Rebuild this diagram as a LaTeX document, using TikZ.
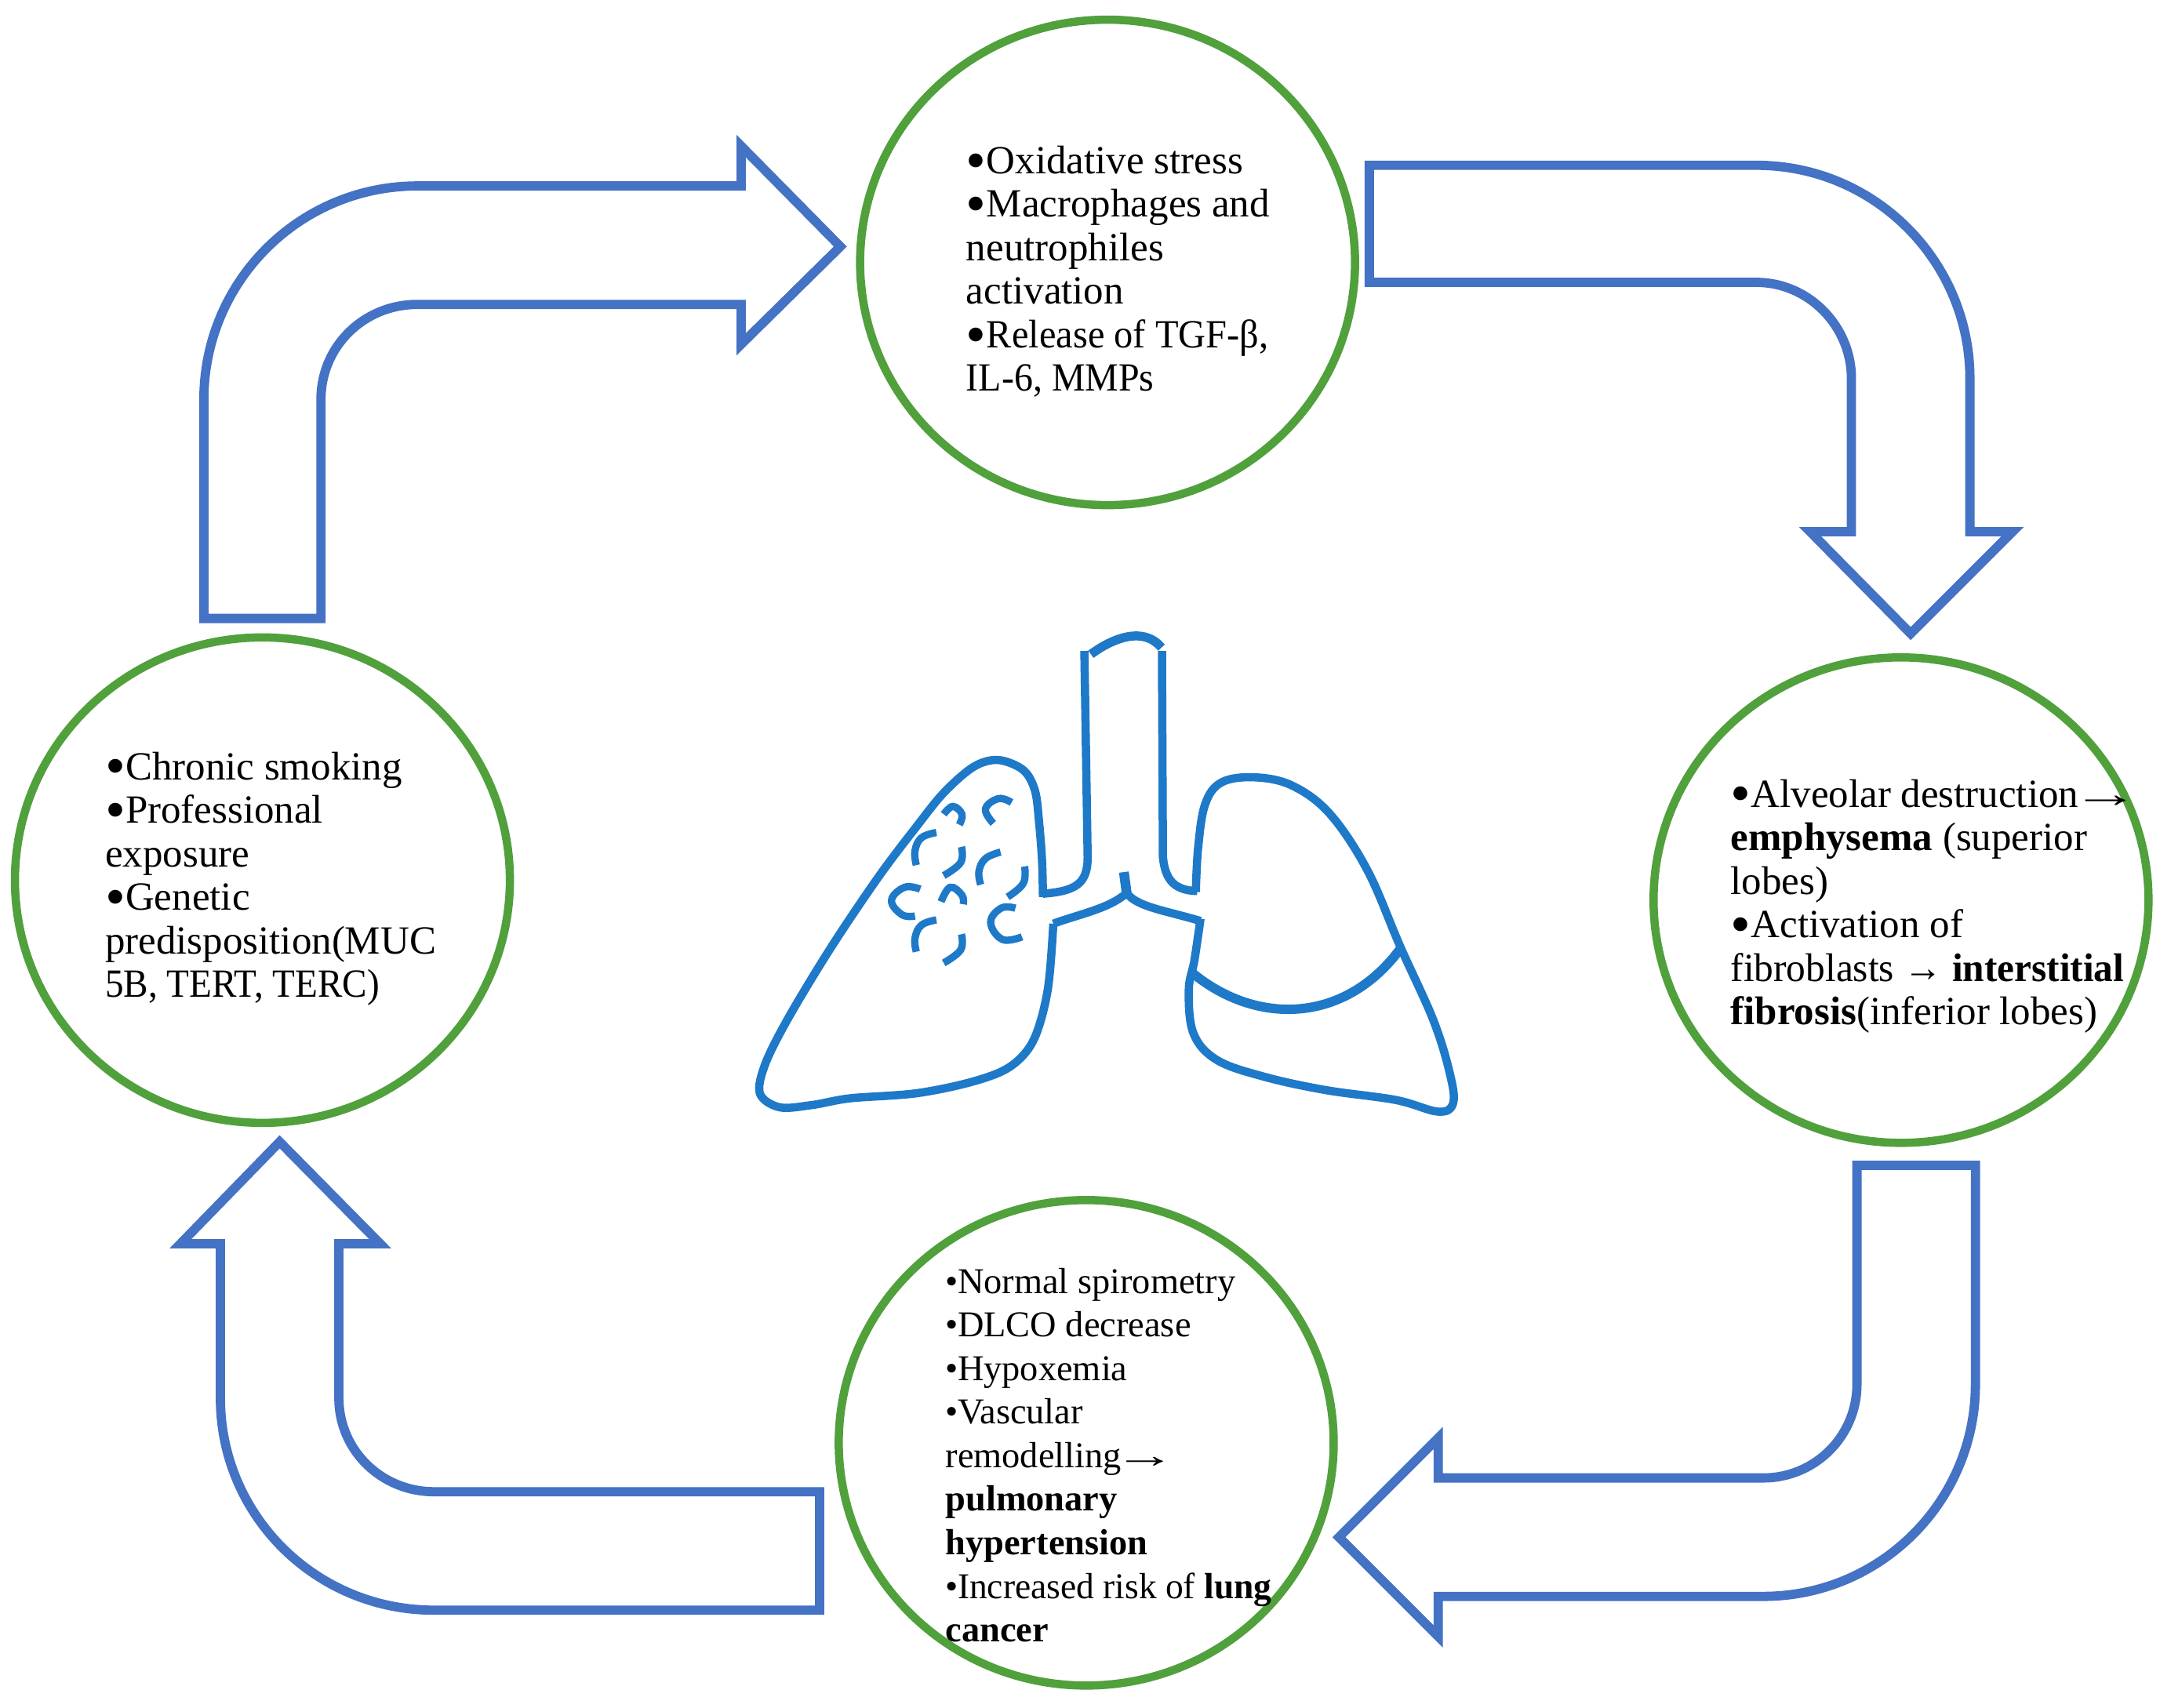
\documentclass[tikz,border=0pt]{standalone}
\usepackage{fontspec}
\usepackage{graphicx}
\setmainfont{Liberation Serif}
\usetikzlibrary{shapes.geometric}
\definecolor{ringgreen}{HTML}{50A03C}
\definecolor{arrowblue}{HTML}{4472C4}
\definecolor{lungblue}{HTML}{1E79C8}
\newcommand{\bigbul}{\makebox[7.4pt][l]{\raisebox{-2.2pt}{\scalebox{1.45}{•}}}}
\newcommand{\smbul}{\makebox[4.4pt][l]{•}}
\newcommand{\longarrow}{\hspace{-2.5pt}\scalebox{1.7}[1]{→}}
\newcommand{\squeeze}[2]{\scalebox{#1}[1]{#2}}
\tikzset{
  ring/.style={ellipse,draw=ringgreen,line width=0.105cm,minimum width=6.31cm,minimum height=6.19cm,inner sep=0pt,outer sep=0pt},
  blockarrow/.style={draw=arrowblue,line width=0.118cm,miter limit=10,line join=miter},
  lungline/.style={draw=lungblue,line width=0.105cm,line join=round},
  alv/.style={draw=lungblue,line width=0.093cm},
  bigtxt/.style={anchor=base west,inner sep=0pt,font=\fontsize{14.5}{15.8}\selectfont},
  smalltxt/.style={anchor=base west,inner sep=0pt,font=\fontsize{13.2}{15.8}\selectfont}
}
\begin{document}
\begin{tikzpicture}[x=0.017564cm,y=-0.017564cm]
\useasboundingbox (0,0) rectangle (1568,1239.5);
% rings
\node[ring] (top) at (804,190.5) {};
\node[ring] (left) at (190.5,639) {};
\node[ring] (right) at (1380,653.5) {};
\node[ring] (bottom) at (788.5,1047.5) {};
% block arrows
\draw[blockarrow] (148,449) -- (148,290) .. controls (148,204.4) and (217.4,135) .. (303,135) -- (538,135) -- (538,106) -- (610,179) -- (538,250) -- (538,221) -- (303,221) .. controls (264.3,221) and (233,251.3) .. (233,290) -- (233,449) -- cycle;
\draw[blockarrow] (994,120) -- (1275,120) .. controls (1360.6,120) and (1430,189.4) .. (1430,275) -- (1430,386) -- (1461,386) -- (1387,460) -- (1314,386) -- (1344,386) -- (1344,275) .. controls (1344,236.9) and (1313.1,205) .. (1275,205) -- (994,205) -- cycle;
\draw[blockarrow] (1348,846) -- (1434,846) -- (1434,1005) .. controls (1434,1090) and (1365,1159) .. (1280,1159) -- (1044,1159) -- (1044,1188) -- (972,1116) -- (1044,1044) -- (1044,1073) -- (1280,1073) .. controls (1317.6,1073) and (1348,1042.6) .. (1348,1005) -- cycle;
\draw[blockarrow] (595,1169) -- (315,1169) .. controls (229.4,1169) and (160,1100.4) .. (160,1015) -- (160,903) -- (131,903) -- (203,829) -- (276,903) -- (246,903) -- (246,1015) .. controls (246,1053) and (277,1083) .. (315,1083) -- (595,1083) -- cycle;
% texts
\node[bigtxt] (toptext) at (701,126) {\begin{tabular}[t]{@{}l@{}}\bigbul Oxidative stress\\\bigbul Macrophages and\\neutrophiles\\activation\\\bigbul\squeeze{0.95}{Release of TGF-β,}\\\squeeze{0.94}{IL-6, MMPs}\end{tabular}};
\node[bigtxt] (lefttext) at (76,566) {\begin{tabular}[t]{@{}l@{}}\bigbul Chronic smoking\\\bigbul Professional\\exposure\\\bigbul Genetic\\predisposition(MUC\\\squeeze{0.925}{5B, TERT, TERC)}\end{tabular}};
\node[bigtxt] (righttext) at (1256,586) {\begin{tabular}[t]{@{}l@{}}\bigbul Alveolar destruction\longarrow\\\textbf{emphysema} (superior\\lobes)\\\bigbul Activation of\\\squeeze{0.968}{fibroblasts → \textbf{interstitial}}\\\textbf{fibrosis}(inferior lobes)\end{tabular}};
\node[smalltxt] (bottomtext) at (686,939) {\begin{tabular}[t]{@{}l@{}}\smbul Normal spirometry\\\smbul DLCO decrease\\\smbul Hypoxemia\\\smbul Vascular\\remodelling\longarrow\\\textbf{pulmonary}\\\textbf{hypertension}\\\smbul\squeeze{0.98}{Increased risk of \textbf{lung}}\\\textbf{cancer}\end{tabular}};
% lungs
\begin{scope}[shift={(535.2,446)},x=0.005995cm,y=-0.00424cm]
\draw[lungline,line width=0.115cm] (752,120) .. controls (790,80) and (860,30) .. (902,100);
\draw[lungline] (738,110) -- (745,730) .. controls (745,810) and (720,832) .. (650,840);
\draw[lungline] (903,110) -- (905,730) .. controls (910,800) and (930,830) .. (978,832);
\draw[lungline] plot[smooth,tension=0.55] coordinates {(650,850) (648,740) (642,630) (633,530) (608,468) (555,438) (503,458) (440,535) (380,640) (300,790) (200,1000) (110,1210) (60,1350) (48,1440) (90,1482) (160,1475) (240,1455) (380,1440) (500,1405) (580,1360) (630,1280) (660,1130) (672,930)};
\draw[lungline] (672,930) .. controls (730,900) and (790,885) .. (828,838) .. controls (850,880) and (910,890) .. (985,922);
\draw[lungline,line width=0.125cm] (822,775) -- (828,838);
\draw[lungline] plot[smooth,tension=0.6] coordinates {(985,915) (972,1040) (960,1130) (970,1260) (1020,1340) (1120,1390) (1250,1430) (1400,1460) (1490,1495) (1522,1470) (1515,1380) (1480,1220) (1410,1000) (1340,770) (1260,600) (1180,515) (1100,490) (1030,505) (995,570) (980,700) (975,835)};
\draw[lungline,line width=0.12cm] (965,1075) .. controls (1100,1235) and (1290,1235) .. (1410,1005);
\end{scope}
% alveoli
\begin{scope}[shift={(637.7,563.7)},x=0.003333cm,y=-0.003333cm]
\foreach \pts in {
 {(510,100) (460,85) (410,125) (440,180)},
 {(250,145) (285,115) (320,145) (310,185)},
 {(222,215) (165,235) (140,285) (145,340)},
 {(318,270) (315,330) (250,380)},
 {(468,290) (410,315) (385,365) (392,415)},
 {(560,345) (555,410) (495,462)},
 {(160,432) (100,425) (50,475) (90,530) (140,535)},
 {(240,480) (275,425) (320,455) (325,490)},
 {(525,505) (470,505) (430,560) (475,625) (550,615)},
 {(222,550) (165,570) (140,620) (145,672)},
 {(318,605) (315,665) (250,715)}}{
  \draw[alv] plot[smooth,tension=0.7] coordinates {\pts};
}
\end{scope}
\end{tikzpicture}
\end{document}
